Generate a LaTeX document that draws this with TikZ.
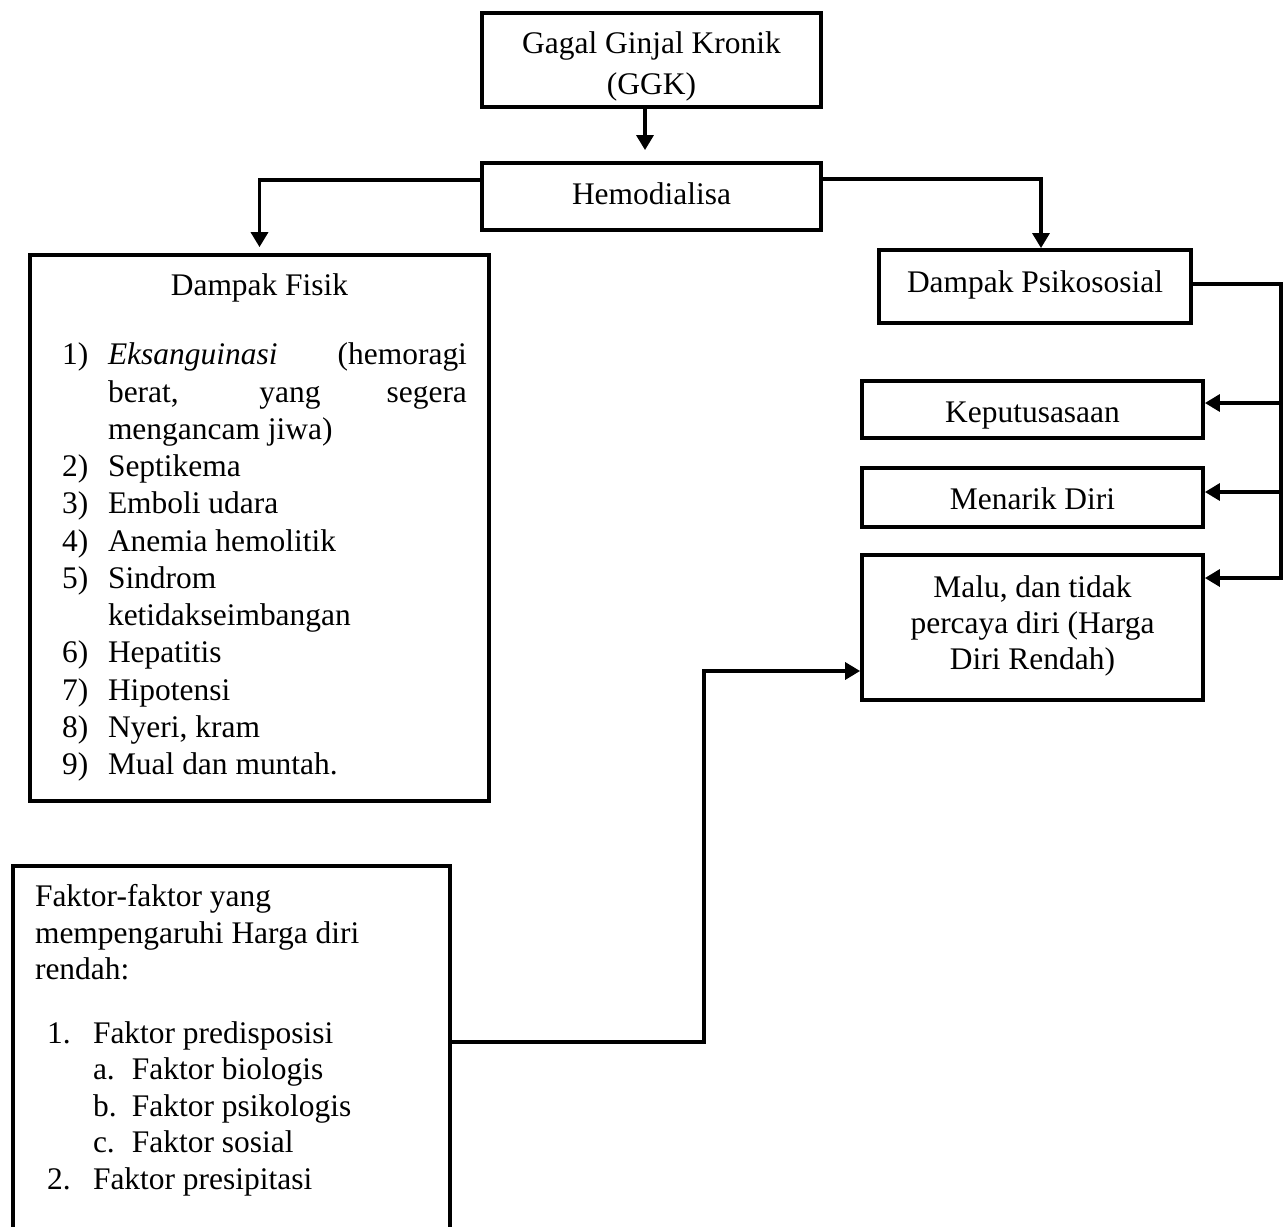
\documentclass[tikz,border=0pt]{standalone}
\usepackage{fontspec}
\setmainfont{Liberation Serif}
\usetikzlibrary{arrows.meta, calc, positioning}

% box text: width, height, first baseline, lines
\newcommand{\boxtxt}[4]{\parbox[c][#2][t]{#1}{\centering\rule{0pt}{#3}#4}}

\begin{document}
\begin{tikzpicture}[x=0.02cm, y=-0.02cm,
    box/.style={draw, line width=2.2pt, inner sep=0pt, font=\fontsize{17.9}{20.7}\selectfont},
    link/.style={line width=1.9pt},
    arr/.style={link, -{Triangle[length=0.3cm,width=0.34cm]}}]
    \useasboundingbox (0,0) rectangle (1288,1227);

    % Top
    \node[box] (ggk) at (651.5,60) {\boxtxt{6.78cm}{1.88cm}{0.8cm}{\fontsize{17.9}{23.9}\selectfont Gagal Ginjal Kronik\\(GGK)}};
    \node[box] (hemo) at (651.5,196.5) {\boxtxt{6.78cm}{1.34cm}{0.82cm}{Hemodialisa}};

    % Dampak fisik
    \node[box, font=\fontsize{17.9}{21.2}\selectfont] (fisik) at (259.5,528) {\parbox[c][10.92cm][t]{9.18cm}{%
        \centering\rule{0pt}{0.8cm}Dampak Fisik\par
        \vspace{18.6pt}\raggedright
        {\leftskip=0.64cm
        \makebox[0.92cm][l]{1)}\makebox[7.18cm][s]{\textit{Eksanguinasi} (hemoragi}\\
        \hspace*{0.92cm}\makebox[7.18cm][s]{berat, yang segera}\\
        \hspace*{0.92cm}mengancam jiwa)\\
        \makebox[0.92cm][l]{2)}Septikema\\
        \makebox[0.92cm][l]{3)}Emboli udara\\
        \makebox[0.92cm][l]{4)}Anemia hemolitik\\
        \makebox[0.92cm][l]{5)}Sindrom\\
        \hspace*{0.92cm}ketidakseimbangan\\
        \makebox[0.92cm][l]{6)}Hepatitis\\
        \makebox[0.92cm][l]{7)}Hipotensi\\
        \makebox[0.92cm][l]{8)}Nyeri, kram\\
        \makebox[0.92cm][l]{9)}Mual dan muntah.\par}}};

    % Dampak psikososial
    \node[box] (psiko) at (1035,286.5) {\boxtxt{6.24cm}{1.46cm}{0.84cm}{Dampak Psikososial}};
    \node[box] (keput) at (1032.5,409.5) {\boxtxt{6.82cm}{1.14cm}{0.82cm}{Keputusasaan}};
    \node[box] (menarik) at (1032.5,497.5) {\boxtxt{6.82cm}{1.18cm}{0.82cm}{Menarik Diri}};
    \node[box] (malu) at (1032.5,627.5) {\boxtxt{6.82cm}{2.9cm}{0.84cm}{Malu, dan tidak\\percaya diri (Harga\\Diri Rendah)}};

    % Faktor
    \node[box, anchor=north] (faktor) at (231.5,864) {\parbox[c][8cm][t]{8.74cm}{\raggedright
        {\leftskip=0.44cm \rule{0pt}{0.82cm}Faktor-faktor yang\\
        mempengaruhi Harga diri\\
        rendah:\par}
        \vspace{15.7pt}
        {\leftskip=0.68cm
        \makebox[0.92cm][l]{1.}Faktor predisposisi\\
        \hspace*{0.92cm}\makebox[0.78cm][l]{a.}Faktor biologis\\
        \hspace*{0.92cm}\makebox[0.78cm][l]{b.}Faktor psikologis\\
        \hspace*{0.92cm}\makebox[0.78cm][l]{c.}Faktor sosial\\
        \makebox[0.92cm][l]{2.}Faktor presipitasi\par}}};

    % Connectors
    \draw[arr] ([xshift=-0.13cm]ggk.south) -- ([xshift=-0.13cm,yshift=0.22cm]hemo.north);
    \draw[arr] ([yshift=0.33cm]hemo.west) -| ([yshift=0.12cm]fisik.north);
    \draw[arr] ([yshift=0.35cm]hemo.east) -| ([xshift=0.12cm]psiko.north);
    \draw[arr] ([yshift=0.05cm]psiko.east) -- ++(1.76cm,0) coordinate (trunk) |- ([yshift=0.99cm]malu.east);
    \path ([yshift=0.13cm]keput.east) coordinate (kin) ([yshift=0.11cm]menarik.east) coordinate (min);
    \draw[arr] (trunk |- kin) -- (kin);
    \draw[arr] (trunk |- min) -- (min);
    \draw[arr] ([yshift=-3.56cm]faktor.north east) -- ++(5.04cm,0) |- ([yshift=-0.87cm]malu.west);
\end{tikzpicture}
\end{document}
